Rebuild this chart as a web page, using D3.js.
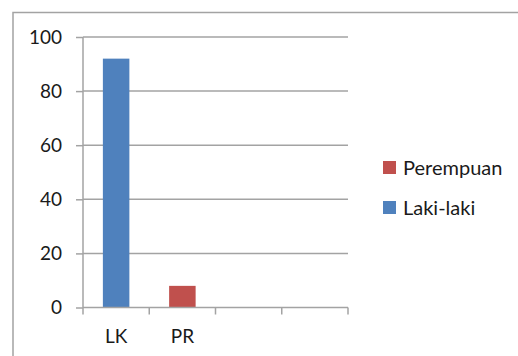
<!DOCTYPE html>
<html>
<head>
<meta charset="utf-8">
<script src="https://cdn.jsdelivr.net/npm/d3@7"></script>
<style>
  html, body { margin: 0; padding: 0; background: #fff; }
  svg { display: block; }
  text { font-family: Lato, "Open Sans", sans-serif; fill: #1a1a1a; }
</style>
</head>
<body>
<svg id="chart" width="518" height="356"></svg>
<script>
// Chart data
const categories = ["LK", "PR", "", ""];
const seriesNames = ["Laki-laki", "Perempuan"];
const lakiLaki = [92, 0, 0, 0];
const perempuan = [0, 8, 0, 0];
const yTicks = [0, 20, 40, 60, 80, 100];
const colors = ["#4f81bd", "#c0504d"];

const svg = d3.select("#chart");
const gridColor = "#a3a3a3";

// Outer chart frame (runs off the right and bottom edges)
svg.append("rect")
  .attr("x", 13).attr("y", 12.5)
  .attr("width", 540).attr("height", 380)
  .attr("fill", "none")
  .attr("stroke", gridColor)
  .attr("stroke-width", 1.5);

const plot = { left: 83, right: 348, top: 37, bottom: 307.5 };

const x = d3.scaleBand()
  .domain(d3.range(categories.length))
  .range([plot.left, plot.right])
  .paddingInner(0.6)
  .paddingOuter(0.3);

const y = d3.scaleLinear()
  .domain([0, 100])
  .range([plot.bottom, plot.top]);

// Horizontal gridlines
svg.append("g")
  .selectAll("line")
  .data(yTicks.filter(d => d > 0))
  .join("line")
  .attr("x1", plot.left).attr("x2", plot.right)
  .attr("y1", d => y(d)).attr("y2", d => y(d))
  .attr("stroke", gridColor)
  .attr("stroke-width", 1.5);

// Stacked columns
const rows = categories.map((c, i) => ({ i, "Laki-laki": lakiLaki[i], "Perempuan": perempuan[i] }));
const stacked = d3.stack().keys(seriesNames)(rows);

svg.append("g")
  .selectAll("g")
  .data(stacked)
  .join("g")
  .attr("fill", (d, k) => colors[k])
  .selectAll("rect")
  .data(d => d.filter(p => p[1] - p[0] > 0))
  .join("rect")
  .attr("x", p => x(p.data.i))
  .attr("width", x.bandwidth())
  .attr("y", p => y(p[1]))
  .attr("height", p => y(p[0]) - y(p[1]));

// Y axis
const yAxis = svg.append("g")
  .attr("transform", `translate(${plot.left},0)`)
  .call(d3.axisLeft(y).tickValues(yTicks).tickSize(7).tickPadding(14));
yAxis.select(".domain").attr("stroke", gridColor).attr("stroke-width", 1.5)
  .attr("d", `M0,${plot.top}V${plot.bottom}`);
yAxis.selectAll(".tick line").attr("stroke", gridColor).attr("stroke-width", 1.5);
yAxis.selectAll(".tick text")
  .style("font-size", "19px")
  .attr("fill", "#1a1a1a");

// X axis with category labels
const xAxis = svg.append("g")
  .attr("transform", `translate(0,${plot.bottom})`)
  .call(d3.axisBottom(x).tickSize(0).tickPadding(22).tickFormat(i => categories[i]));
xAxis.select(".domain").attr("stroke", gridColor).attr("stroke-width", 1.5)
  .attr("d", `M${plot.left},0H${plot.right}`);
xAxis.selectAll(".tick text")
  .style("font-size", "19px")
  .attr("fill", "#1a1a1a");

// Category boundary tick marks
xAxis.append("g")
  .selectAll("line")
  .data(d3.range(categories.length + 1))
  .join("line")
  .attr("x1", i => x.range()[0] + i * x.step())
  .attr("x2", i => x.range()[0] + i * x.step())
  .attr("y1", 0).attr("y2", 7)
  .attr("stroke", gridColor)
  .attr("stroke-width", 1.5);

// Legend (stack order reversed, top to bottom)
const legendItems = seriesNames.map((n, k) => ({ name: n, color: colors[k] })).reverse();
const legend = svg.append("g")
  .selectAll("g")
  .data(legendItems)
  .join("g")
  .attr("transform", (d, k) => `translate(383,${161 + k * 40})`);
legend.append("rect")
  .attr("width", 13).attr("height", 13)
  .attr("fill", d => d.color);
legend.append("text")
  .attr("x", 20).attr("y", 6.5)
  .attr("dy", "0.35em")
  .style("font-size", "20px")
  .text(d => d.name);
</script>
</body>
</html>
